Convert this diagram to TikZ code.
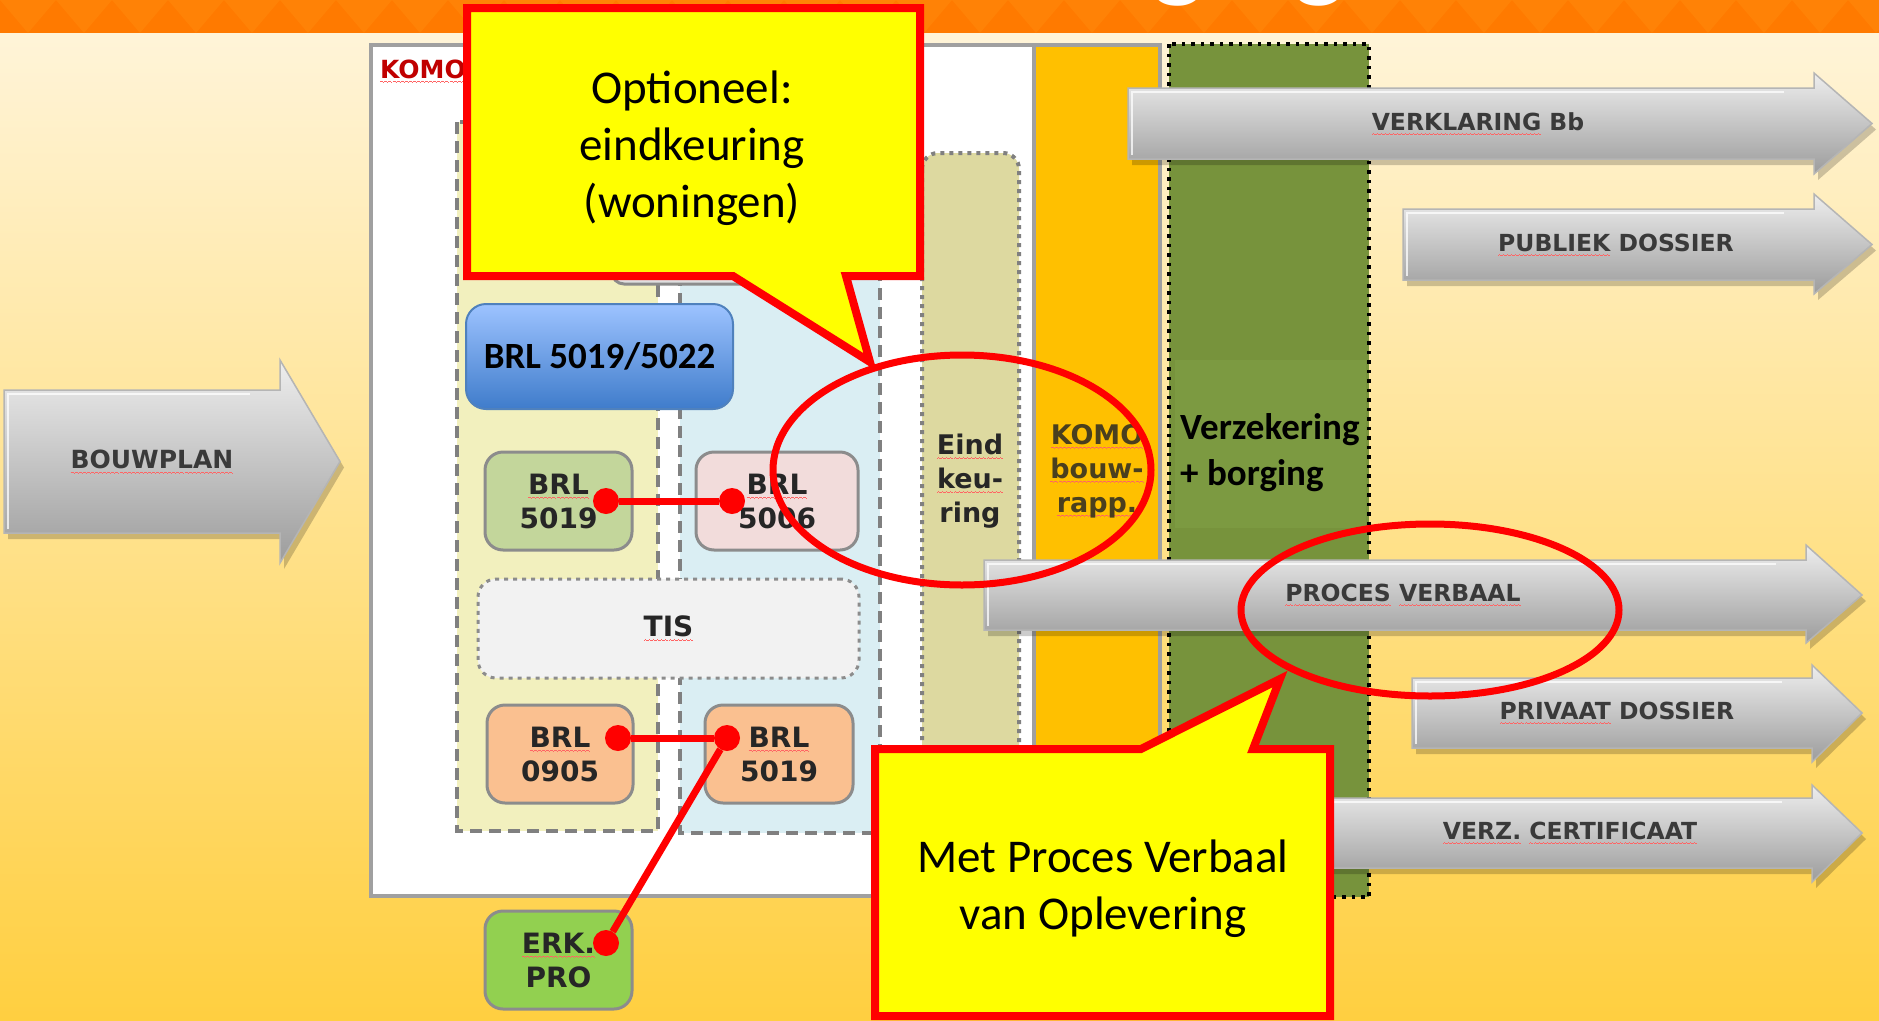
\documentclass[tikz,border=0pt]{standalone}
\usepackage{fontspec}
\setmainfont{Carlito}
\newfontfamily\djv{DejaVu Sans}
\usetikzlibrary{calc}

\definecolor{band}{HTML}{FF7A00}
\definecolor{bandlt}{HTML}{FF8206}
\definecolor{bgtop}{HTML}{FFF4D8}
\definecolor{bgmid}{HTML}{FFE49A}
\definecolor{bgbot}{HTML}{FFCF40}
\definecolor{boxgrey}{HTML}{8C8C8C}
\definecolor{kbord}{HTML}{A0A0A0}
\definecolor{dashgrey}{HTML}{808080}
\definecolor{coly}{HTML}{F2F0BE}
\definecolor{colb}{HTML}{DAEEF3}
\definecolor{eindc}{HTML}{DDD9A0}
\definecolor{komoc}{HTML}{FFC000}
\definecolor{greenc}{HTML}{77933C}
\definecolor{greenlt}{HTML}{7C9A41}
\definecolor{brlgreen}{HTML}{C3D69B}
\definecolor{brlpink}{HTML}{F2DCDB}
\definecolor{brlorange}{HTML}{FAC090}
\definecolor{erkgreen}{HTML}{92D050}
\definecolor{tisc}{HTML}{F2F2F2}
\definecolor{bluetop}{HTML}{9DC3FF}
\definecolor{bluebot}{HTML}{3F7CCB}
\definecolor{blueedge}{HTML}{4F81BD}
\definecolor{komored}{HTML}{C00000}
\definecolor{squig}{HTML}{FF6464}
\definecolor{txt}{HTML}{262626}
\definecolor{komotxt}{HTML}{4A3F1E}
\definecolor{arrtxt}{HTML}{3A3A3A}
\definecolor{cyellow}{HTML}{FFFF00}
\definecolor{agtop}{HTML}{EEEEEE}
\definecolor{agbot}{HTML}{9C9C9C}
\definecolor{agedge}{HTML}{B5B5B5}

% red wavy spell-check underline, made of small rules
\newcommand\wavunit{\vrule height -3.2pt depth 4.1pt width 1pt\vrule height -2.6pt depth 3.5pt width 1pt\vrule height -3.2pt depth 4.1pt width 1pt\vrule height -3.8pt depth 4.7pt width 1pt}
\newcommand\wav[1]{{\setbox0=\hbox{#1}\rlap{\color{squig}\hbox to\wd0{\xleaders\hbox{\wavunit}\hfil}}\box0}}

\newcommand\mybx{\djv\bfseries\fontsize{28}{34}\selectfont}
\newcommand\myarr{\djv\bfseries\fontsize{23.5}{28}\selectfont}
\newcommand\mybp{\djv\bfseries\fontsize{25}{30}\selectfont}
\newcommand\mycol{\djv\bfseries\fontsize{27}{34}\selectfont}
\newcommand\mycl{\fontsize{47}{57}\selectfont}
\newcommand\myvz{\bfseries\fontsize{37}{46}\selectfont}
\newcommand\mybig{\bfseries\fontsize{37}{44}\selectfont}

% grey 3D arrow: x-left, body top, body bottom, head x, head top, head bottom, tip x
\newcommand\grarrow[7]{%
  \begin{scope}[shift={(4,6)}]
    \fill[black,opacity=.2] (#1,#2) -- (#4,#2) -- (#4,#5) -- (#7,{(#2+#3)/2}) -- (#4,#6) -- (#4,#3) -- (#1,#3) -- cycle;
  \end{scope}
  \shadedraw[top color=agtop, bottom color=agbot, draw=agedge, line width=1.5, line join=miter]
    (#1,#2) -- (#4,#2) -- (#4,#5) -- (#7,{(#2+#3)/2}) -- (#4,#6) -- (#4,#3) -- (#1,#3) -- cycle;
  \draw[white, opacity=.75, line width=2] (#1+4,#3-4) -- (#1+4,#2+4) -- (#4-30,#2+4);
}

\begin{document}
\begin{tikzpicture}[x=1pt,y=-1pt,
  brlbox/.style={draw=boxgrey, line width=3, rounded corners=18, inner sep=0, align=center, font=\mybx, text=txt},
  coldash/.style={draw=dashgrey, line width=4, dash pattern=on 12 off 7},
  reddot/.style={circle, fill=red, inner sep=0, minimum size=26},
  redline/.style={draw=red, line width=7},
  calloutbox/.style={fill=cyellow, draw=red, line width=8, line join=miter},
  redring/.style={draw=red, line width=7},
  arrtext/.style={font=\myarr, text=arrtxt, inner sep=0},
  coltext/.style={font=\mycol, align=center, inner sep=0},
  callouttext/.style={font=\mycl, align=center, inner sep=0, text=black}]

\useasboundingbox (0,0) rectangle (1879,1020);

% background
\shade[top color=bgtop, middle color=bgmid, bottom color=bgbot] (0,33) rectangle (1879,1020);
\fill[band] (0,0) rectangle (1879,33);
\foreach \i in {0,...,34} {\fill[bandlt] ({\i*56},0) -- ({\i*56+28},33) -- ({\i*56+56},0) -- cycle;}
\begin{scope}
  \clip (0,0) rectangle (1879,33);
  \node[anchor=base west, text=white, font=\fontsize{115}{115}\selectfont, inner sep=0] (title) at (992,-14) {borging};
\end{scope}

% BOUWPLAN arrow
\grarrow{4}{390}{533}{280}{360}{563}{340}
\node[font=\mybp, text=arrtxt, inner sep=0] (bouwplan) at (152,462) {\wav{BOUWPLAN}};

% KOMO box with orange column
\draw[fill=white, draw=kbord, line width=4] (371,45) rectangle (1160,896);
\draw[fill=komoc, draw=kbord, line width=4] (1034,45) rectangle (1160,896);
\node[anchor=base west, font=\mybp, text=komored, inner sep=0] (komolbl) at (380,78) {\wav{KOMO}};

% dashed columns
\draw[coldash, fill=coly] (457,122) rectangle (658,831);
\draw[coldash, fill=colb] (680,122) rectangle (880,833);
\draw[draw=boxgrey, line width=3, fill=gray!25, rounded corners=12] (612,190) rectangle (830,284);

% Eindkeuring column
\draw[fill=eindc, draw=dashgrey, line width=4, dash pattern=on 4 off 5, rounded corners=16] (922,153) rectangle (1019,900);

% green column
\fill[greenc] (1169,44) rectangle (1369,897);
\fill[greenlt] (1175,360) rectangle (1366,528);
\draw[black, line width=3.5, dash pattern=on 3.5 off 6] (1169,44) rectangle (1369,897);

% right arrows
\grarrow{1128}{88}{159}{1814}{73}{174}{1872}
\node[arrtext] (verkl) at (1478,124) {\wav{VERKLARING} Bb};
\grarrow{1403}{209}{280}{1814}{194}{294}{1872}
\node[arrtext] (publiek) at (1616,245) {\wav{PUBLIEK} DOSSIER};
\grarrow{984}{560}{630}{1806}{545}{643}{1862}
\node[arrtext] (pv) at (1403,595) {\wav{PROCES} \wav{VERBAAL}};
\grarrow{1412}{678}{748}{1812}{665}{762}{1862}
\node[arrtext] (privaat) at (1617,713) {\wav{PRIVAAT} DOSSIER};
\grarrow{1290}{798}{868}{1812}{785}{882}{1862}
\node[arrtext] (verz) at (1570,833) {\wav{VERZ.} \wav{CERTIFICAAT}};

% boxes
\node[draw=blueedge, line width=2, rounded corners=20, top color=bluetop, bottom color=bluebot,
      minimum width=267, minimum height=105, inner sep=0, font=\mybig, text=black] (brl5022) at (599.5,356.5) {BRL 5019/5022};
\node[brlbox, fill=brlgreen, minimum width=147, minimum height=98] (b5019a) at (558.5,501) {\wav{BRL}\\5019};
\node[brlbox, fill=brlpink, minimum width=162, minimum height=98] (b5006) at (777,501) {\wav{BRL}\\5006};
\node[brlbox, fill=tisc, dash pattern=on 4 off 5, minimum width=381, minimum height=99] (tis) at (668.5,628.5) {\wav{TIS}};
\node[brlbox, fill=brlorange, minimum width=146, minimum height=98] (b0905) at (560,754) {\wav{BRL}\\0905};
\node[brlbox, fill=brlorange, minimum width=148, minimum height=98] (b5019b) at (779,754) {\wav{BRL}\\5019};
\node[brlbox, fill=erkgreen, minimum width=147, minimum height=98] (erk) at (558.5,960) {\wav{ERK.}\\PRO};

% red connectors
\node[reddot] (d1) at (606,501) {};
\node[reddot] (d2) at (732,501) {};
\node[reddot] (d3) at (618,738) {};
\node[reddot] (d4) at (727,738) {};
\node[reddot] (d5) at (606,943) {};
\draw[redline] (d1) -- (d2);
\draw[redline] (d3) -- (d4);
\draw[redline] (d4) -- (d5);

% column texts
\node[coltext, text=txt] (eind) at (970,481) {\wav{Eind}\\\wav{keu-}\\ring};
\node[coltext, text=komotxt] (komocol) at (1097,471) {\wav{KOMO}\\\wav{bouw-}\\\wav{rapp.}};
\node[font=\myvz, align=left, anchor=west, inner sep=0, text=black] (verzek) at (1180,453) {Verzekering\\+ borging};

% red ellipses
\draw[redring] (962,470) ellipse [x radius=189, y radius=115];
\draw[redring] (1430,610) ellipse [x radius=189, y radius=86];

% callouts
\draw[calloutbox] (467,8) -- (920,8) -- (920,276) -- (846,276) -- (870,362) -- (733,276) -- (467,276) -- cycle;
\node[callouttext] (opt) at (692,148) {Optioneel:\\eindkeuring\\(woningen)};
\draw[calloutbox] (875,749) -- (1141,749) -- (1280,679) -- (1253,749) -- (1330,749) -- (1330,1016) -- (875,1016) -- cycle;
\node[callouttext] (metpv) at (1103,889) {Met Proces Verbaal\\van Oplevering};

\end{tikzpicture}
\end{document}
